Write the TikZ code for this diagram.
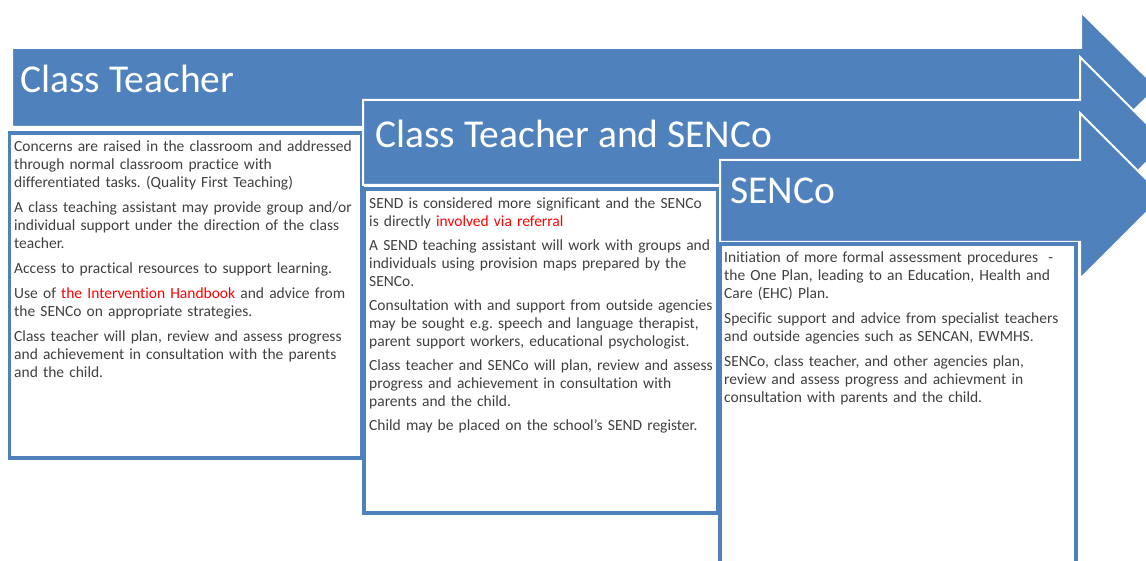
\documentclass[tikz,border=0pt]{standalone}
\usepackage{fontspec}
\setmainfont{Carlito}[Ligatures=NoCommon]
\usepackage{tikz}
\usetikzlibrary{positioning}
\definecolor{bandblue}{HTML}{4F81BD}
\definecolor{frameblue}{HTML}{4F81BD}
\definecolor{bodytext}{HTML}{404040}
\definecolor{notered}{HTML}{FF0000}
\frenchspacing

\begin{document}
\begin{tikzpicture}[
  x=1pt, y=-1pt,
  band/.style={fill=bandblue, draw=white, line width=2pt, line join=miter},
  panel/.style={rectangle, draw=frameblue, fill=white, line width=3.5pt,
    outer sep=0pt, inner sep=0pt, anchor=north west},
  heading/.style={text=white, font=\fontsize{39.5}{44}\selectfont,
    anchor=base west, inner sep=0pt},
  body/.style={text=bodytext, font=\fontsize{15.5}{18}\selectfont,
    anchor=base west, inner sep=0pt, text width=380pt, align=left},
]
\useasboundingbox (0,0) rectangle (1146,561);
\clip (0,0) rectangle (1146,561);

% first stage
\draw[band] (12,48) -- (1081,48) -- (1081,12) -- (1157,87.5) -- (1081,163)
  -- (1081,127) -- (12,127) -- cycle;
\node[heading] (title1) at (20,93) {Class Teacher};
\node[panel, minimum width=352.5pt, minimum height=325pt] (frame1) at (9.5,133) {};
\node[body] (text1) at (14,152) {Concerns are raised in the classroom and addressed\\
through normal classroom practice with\\
differentiated tasks. (Quality First Teaching)\\[7pt]
A class teaching assistant may provide group and/or\\
individual support under the direction of the class\\
teacher.\\[7pt]
Access to practical resources to support learning.\\[7pt]
Use of \textcolor{notered}{the Intervention Handbook} and advice from\\
the SENCo on appropriate strategies.\\[7pt]
Class teacher will plan, review and assess progress\\
and achievement in consultation with the parents\\
and the child.};

% second stage
\draw[band] (363,100) -- (1080,100) -- (1080,57) -- (1166,143) -- (1080,229)
  -- (1080,185) -- (363,185) -- cycle;
\node[heading] (title2) at (375,148) {Class Teacher and SENCo};
\node[panel, minimum width=354pt, minimum height=324pt] (frame2) at (364,189) {};
\node[body] (text2) at (369,209) {SEND is considered more significant and the SENCo\\
is directly \textcolor{notered}{involved via referral}\\[6pt]
A SEND teaching assistant will work with groups and\\
individuals using provision maps prepared by the\\
SENCo.\\[6pt]
Consultation with and support from outside agencies\\
may be sought e.g. speech and language therapist,\\
parent support workers, educational psychologist.\\[6pt]
Class teacher and SENCo will plan, review and assess\\
progress and achievement in consultation with\\
parents and the child.\\[6pt]
Child may be placed on the school's SEND register.};

% third stage
\draw[band] (720,160) -- (1080,160) -- (1080,113) -- (1163,196) -- (1080,279)
  -- (1080,242) -- (720,242) -- cycle;
\node[heading] (title3) at (730,204) {SENCo};
\node[panel, minimum width=356pt, minimum height=356pt] (frame3) at (720,244) {};
\node[body] (text3) at (724,263) {Initiation of more formal assessment procedures \ -\\
the One Plan, leading to an Education, Health and\\
Care (EHC) Plan.\\[7pt]
Specific support and advice from specialist teachers\\
and outside agencies such as SENCAN, EWMHS.\\[7pt]
SENCo, class teacher, and other agencies plan,\\
review and assess progress and achievment in\\
consultation with parents and the child.};
\end{tikzpicture}
\end{document}
